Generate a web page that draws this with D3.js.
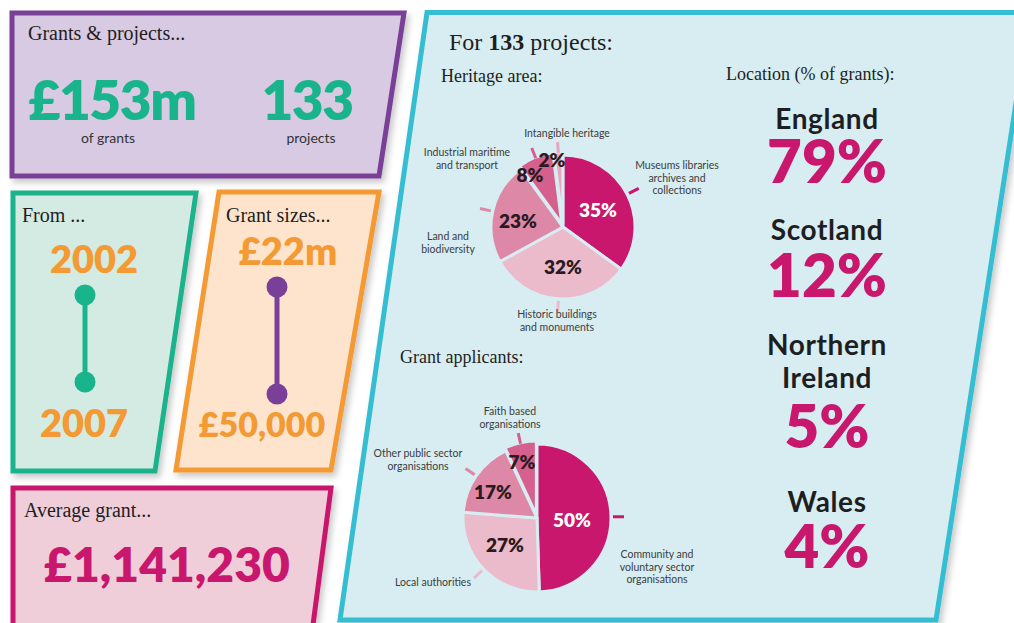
<!DOCTYPE html>
<html>
<head>
<meta charset="utf-8">
<script src="https://cdn.jsdelivr.net/npm/d3@7"></script>
<style>
  body { margin: 0; background: #fff; overflow: hidden; }
</style>
</head>
<body>
<div id="chart"></div>
<script>
const width = 1014, height = 623;

// headline figures
const totalGrants = "£153m";
const projectCount = 133;
const yearRange = ["2002", "2007"];
const grantSizeRange = ["£22m", "£50,000"];
const averageGrant = "£1,141,230";

// heritage area split
const heritageAreas = [["Museums libraries", "archives and", "collections"], ["Historic buildings", "and monuments"],
  ["Land and", "biodiversity"], ["Industrial maritime", "and transport"], ["Intangible heritage"]];
const heritageShares = [35, 32, 23, 8, 2];

// grant applicants split
const applicantTypes = [["Community and", "voluntary sector", "organisations"], ["Local authorities"],
  ["Other public sector", "organisations"], ["Faith based", "organisations"]];
const applicantShares = [50, 27, 17, 7];

// location of grants
const nations = [["England"], ["Scotland"], ["Northern", "Ireland"], ["Wales"]];
const nationShares = [79, 12, 5, 4];

const magenta = "#c8176c", dark = "#1e1e22", sans = "Lato, 'Open Sans', sans-serif",
      serif = "'Liberation Serif', serif", panelFill = "#d7edf1";

let svg = d3.select("#chart").append("svg")
    .attr("width", width)
    .attr("height", height);

let defs = svg.append("defs");
defs.append("filter").attr("id", "shadow")
    .attr("x", "-10%").attr("y", "-10%").attr("width", "130%").attr("height", "130%")
  .append("feDropShadow")
    .attr("dx", 3).attr("dy", 4).attr("stdDeviation", 3)
    .attr("flood-color", "#000").attr("flood-opacity", 0.22);

function box(points, fill, stroke) {
  svg.append("polygon")
    .attr("points", points.map(p => p.join(",")).join(" "))
    .attr("fill", fill)
    .attr("stroke", stroke)
    .attr("stroke-width", 5)
    .attr("stroke-linejoin", "miter")
    .attr("filter", "url(#shadow)");
}

function text(x, y, str, size, opts) {
  opts = opts || {};
  return svg.append("text")
    .attr("x", x).attr("y", y)
    .attr("text-anchor", opts.anchor || "start")
    .style("font-family", opts.family || sans)
    .style("font-size", size + "px")
    .style("font-weight", opts.weight || 400)
    .style("letter-spacing", (opts.spacing || 0) + "px")
    .attr("fill", opts.fill || dark)
    .text(str);
}

// panels
box([[12, 13], [404, 13], [379, 176], [12, 176]], "#d9cae3", "#7a3f98");
box([[13, 193], [196, 193], [155, 471], [13, 471]], "#d4ebe3", "#1bb38c");
box([[219, 192], [379, 192], [331, 470], [176, 470]], "#fee4cd", "#f39a35");
box([[13, 488], [331, 488], [311, 640], [13, 640]], "#f0ced9", magenta);
box([[427, 12.5], [1030, 12.5], [936, 620], [340, 620]], panelFill, "#36bed1");

// grants & projects
text(28, 40, "Grants & projects...", 20, {family: serif});
text(112, 120, totalGrants, 55, {anchor: "middle", weight: 800, fill: "#1ab48c", spacing: -1.5});
text(307, 120, projectCount, 55, {anchor: "middle", weight: 800, fill: "#1ab48c", spacing: -1.5});
text(108, 143, "of grants", 14, {anchor: "middle", fill: "#333"});
text(311, 143, "projects", 14, {anchor: "middle", fill: "#333"});

// from ... lollipop
text(22, 222, "From ...", 20, {family: serif});
function lollipop(x, y0, y1, color) {
  svg.append("line").attr("x1", x).attr("x2", x).attr("y1", y0).attr("y2", y1)
    .attr("stroke", color).attr("stroke-width", 5);
  svg.selectAll(null).data([y0, y1]).enter().append("circle")
    .attr("cx", x).attr("cy", d => d).attr("r", 10.5).attr("fill", color);
}
text(94, 273, yearRange[0], 38, {anchor: "middle", weight: 800, fill: "#f39a35"});
lollipop(85, 295, 382, "#1ab48c");
text(84, 437, yearRange[1], 38, {anchor: "middle", weight: 800, fill: "#f39a35"});

text(226, 222, "Grant sizes...", 20, {family: serif});
text(288, 265, grantSizeRange[0], 38, {anchor: "middle", weight: 800, fill: "#f39a35"});
lollipop(277, 287, 394, "#7a3f98");
text(262, 437, grantSizeRange[1], 34, {anchor: "middle", weight: 800, fill: "#f39a35"});

// average grant
text(24, 517, "Average grant...", 20, {family: serif});
text(167, 582, averageGrant, 48, {anchor: "middle", weight: 800, fill: magenta});

// right panel titles
let t = text(449, 50, "For ", 24, {family: serif});
t.append("tspan").style("font-weight", 700).text(projectCount);
t.append("tspan").text(" projects:");
text(441, 82, "Heritage area:", 18, {family: serif});
text(400, 363, "Grant applicants:", 18, {family: serif});
text(726, 80, "Location (% of grants):", 18, {family: serif});

// pie charts
const heritageColors = [magenta, "#ebbacb", "#de88a7", "#d5608e", "#e8a6bd"];
const applicantColors = [magenta, "#ebbacb", "#de88a7", "#d5608e"];
// label anchors relative to pie centre (first line baseline / percentage centre)
const heritageLabelXY = [[114, -58], [-6, 91], [-115, 13], [-96, -71], [4, -90]];
const heritagePctXY = [[35, -17], [0, 40], [-45, -6], [-33, -52], [-11, -67]];
const applicantLabelXY = [[120, 40], [-104, 68], [-119, -61], [-27, -103]];
const applicantPctXY = [[35, 2], [-32, 27], [-44, -26], [-15, -56]];

function drawPie(cx, cy, r, names, shares, colors, labelXY, pctXY) {
  let g = svg.append("g").attr("transform", "translate(" + cx + "," + cy + ")");
  let pie = d3.pie().sort(null).value(d => d);
  let arcs = pie(shares);
  let arc = d3.arc().innerRadius(0).outerRadius(r);
  let mid = d => (d.startAngle + d.endAngle) / 2;

  g.selectAll(".slice").data(arcs).enter().append("path")
    .attr("d", arc)
    // small slices sit slightly out of the pie
    .attr("transform", d => {
      let off = d.data < 10 ? 3 : 0;
      return "translate(" + Math.sin(mid(d)) * off + "," + (-Math.cos(mid(d)) * off) + ")";
    })
    .attr("fill", (d, i) => colors[i])
    .attr("stroke", panelFill)
    .attr("stroke-width", 3)
    .attr("stroke-linejoin", "round");

  // leader ticks
  g.selectAll(".tick").data(arcs).enter().append("line")
    .attr("x1", d => Math.sin(mid(d)) * (r + 2))
    .attr("y1", d => -Math.cos(mid(d)) * (r + 2))
    .attr("x2", d => Math.sin(mid(d)) * (r + 13))
    .attr("y2", d => -Math.cos(mid(d)) * (r + 13))
    .attr("stroke", (d, i) => colors[i])
    .attr("stroke-width", 3);

  // percentages
  g.selectAll(".pct").data(arcs).enter().append("text")
    .attr("x", (d, i) => pctXY[i][0])
    .attr("y", (d, i) => pctXY[i][1])
    .attr("dy", "0.36em")
    .attr("text-anchor", "middle")
    .style("font-family", sans)
    .style("font-size", "19px")
    .style("font-weight", 800)
    .attr("fill", (d, i) => i == 0 ? "#fff" : "#2a1a20")
    .text(d => d.data + "%");

  // category labels
  names.forEach((lines, i) => {
    let lab = g.append("text")
      .attr("text-anchor", "middle")
      .style("font-family", sans)
      .style("font-size", "10.5px")
      .attr("fill", "#3c3c3c");
    lines.forEach((s, j) => {
      lab.append("tspan").attr("x", labelXY[i][0]).attr("y", labelXY[i][1] + j * 12.5).text(s);
    });
  });
}

drawPie(563, 227, 72, heritageAreas, heritageShares, heritageColors, heritageLabelXY, heritagePctXY);
drawPie(537, 518, 74, applicantTypes, applicantShares, applicantColors, applicantLabelXY, applicantPctXY);

// location list (name baseline, percentage baseline)
const nationNameY = [129, 240, 355, 512];
const nationPctY = [183, 297, 448, 568];
nations.forEach((lines, i) => {
  lines.forEach((s, j) => {
    text(827, nationNameY[i] + j * 33, s, 28, {anchor: "middle", weight: 700, spacing: 0.6});
  });
  text(827, nationPctY[i], nationShares[i] + "%", 60, {anchor: "middle", weight: 800, fill: magenta});
});
</script>
</body>
</html>
